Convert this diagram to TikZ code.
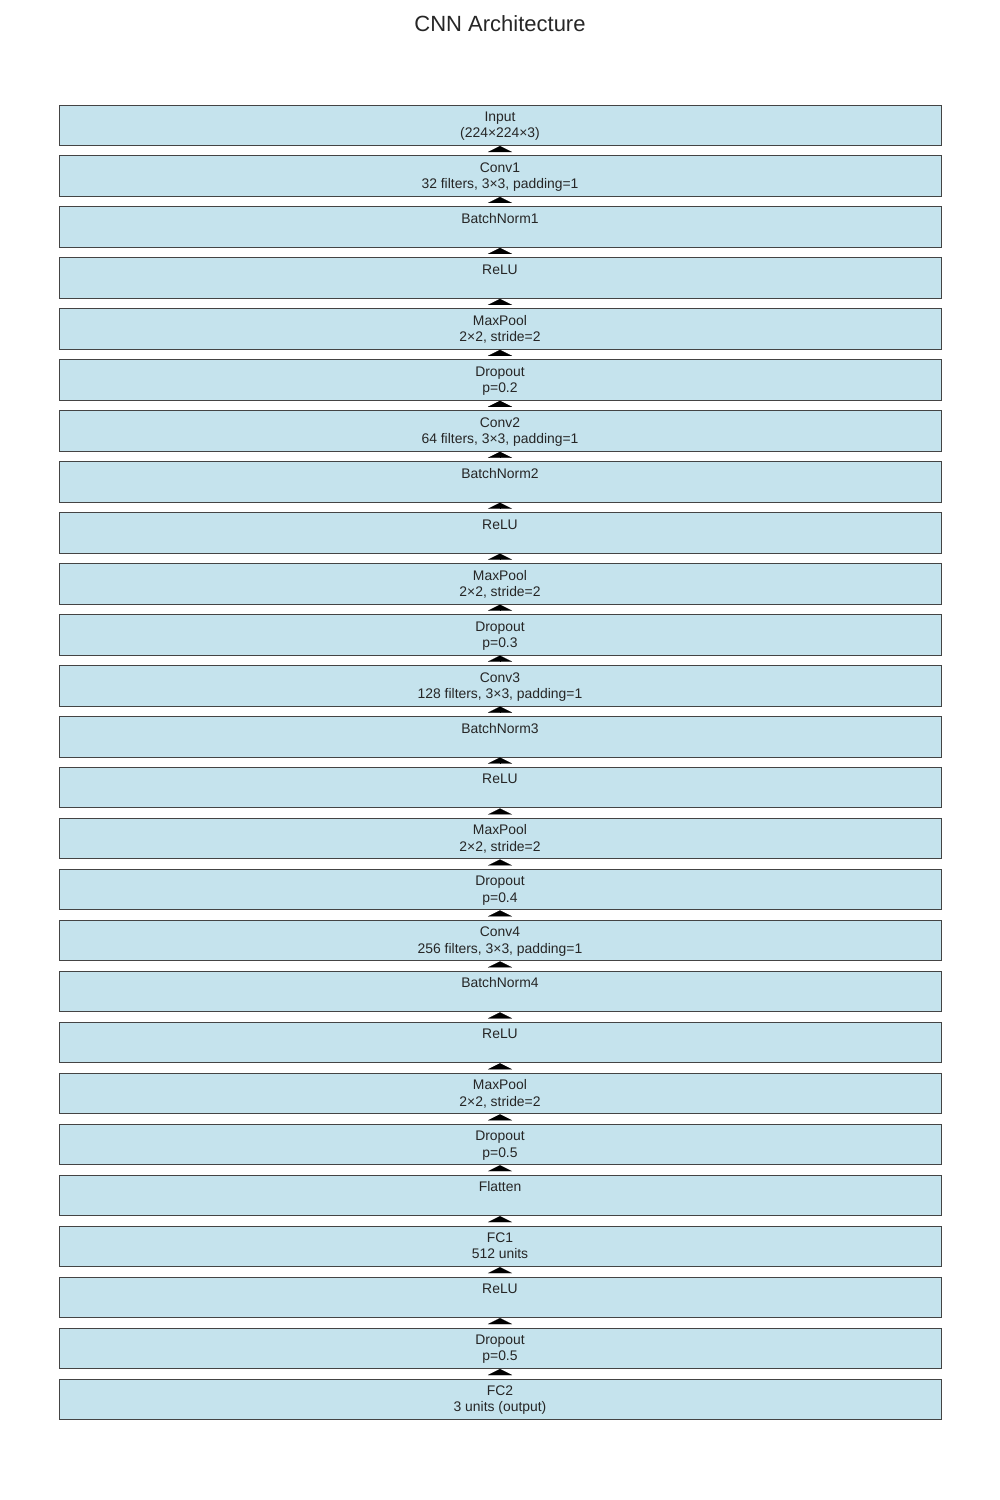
\documentclass[tikz,border=0pt]{standalone}
\usepackage{fontspec}
\setmainfont{Liberation Sans}
\usetikzlibrary{arrows.meta}
\definecolor{boxfill}{HTML}{C5E3ED}
\definecolor{boxedge}{HTML}{444444}
\definecolor{txt}{HTML}{262626}
\begin{document}
\begin{tikzpicture}[x=1pt,y=-1pt,
  layerbox/.style={draw=boxedge, fill=boxfill, line width=1pt, minimum width=882pt, minimum height=40.5pt, inner sep=0pt},
  layertext/.style={anchor=base, inner sep=0pt, text=txt, font=\fontsize{13.9pt}{16pt}\selectfont},
  flowarrow/.style={line width=0.1pt, black, shorten <=4.6pt, -{Triangle[width=24pt,length=6pt]}}]
\useasboundingbox (0,0) rectangle (1000,1500);
\node[anchor=base, text=txt, font=\fontsize{22pt}{26pt}\selectfont] (title) at (500,31) {CNN Architecture};
\foreach \i/\a/\b in {
 1/Input/{(224×224×3)},
 2/Conv1/{32 filters, 3×3, padding=1},
 3/BatchNorm1/{},
 4/ReLU/{},
 5/MaxPool/{2×2, stride=2},
 6/Dropout/{p=0.2},
 7/Conv2/{64 filters, 3×3, padding=1},
 8/BatchNorm2/{},
 9/ReLU/{},
 10/MaxPool/{2×2, stride=2},
 11/Dropout/{p=0.3},
 12/Conv3/{128 filters, 3×3, padding=1},
 13/BatchNorm3/{},
 14/ReLU/{},
 15/MaxPool/{2×2, stride=2},
 16/Dropout/{p=0.4},
 17/Conv4/{256 filters, 3×3, padding=1},
 18/BatchNorm4/{},
 19/ReLU/{},
 20/MaxPool/{2×2, stride=2},
 21/Dropout/{p=0.5},
 22/Flatten/{},
 23/FC1/{512 units},
 24/ReLU/{},
 25/Dropout/{p=0.5},
 26/FC2/{3 units (output)}} {
  \pgfmathsetmacro{\top}{105+(\i-1)*50.96}
  \node[layerbox] (b\i) at (500,\top+20.25) {};
  \node[layertext] (t\i a) at (500,\top+16.5) {\a};
  \node[layertext] (t\i b) at (500,\top+32.8) {\b};
}
\foreach \i [evaluate=\i as \j using int(\i+1)] in {1,...,25} {
  \draw[flowarrow] (b\j.north) -- (b\i.south);
}
\end{tikzpicture}
\end{document}
